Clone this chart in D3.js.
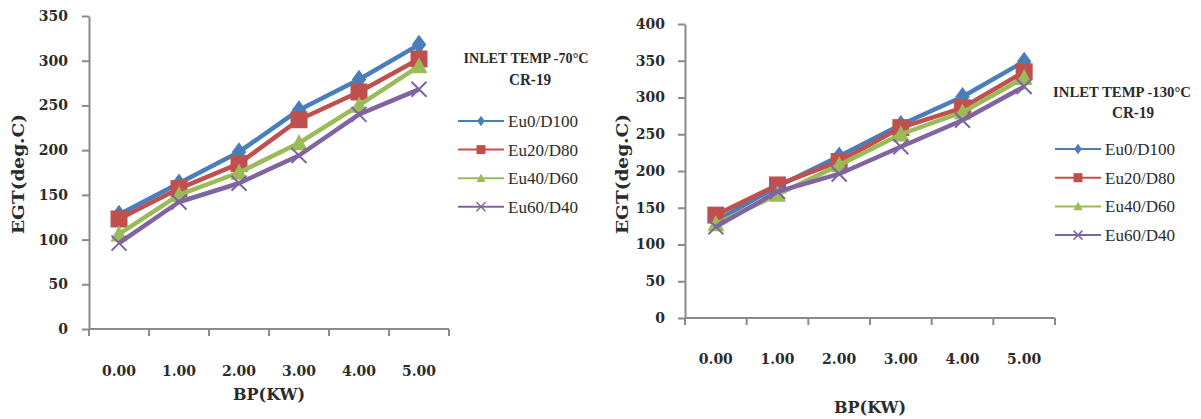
<!DOCTYPE html>
<html>
<head>
<meta charset="utf-8">
<script src="https://cdn.jsdelivr.net/npm/d3@7/dist/d3.min.js"></script>
<style>
  html, body { margin: 0; padding: 0; background: #ffffff; }
  svg { display: block; }
</style>
</head>
<body>
<svg id="chart" width="1201" height="419"></svg>
<script>
// ---------------- DATA ----------------
const categories = ["0.00", "1.00", "2.00", "3.00", "4.00", "5.00"];
const seriesNames = ["Eu0/D100", "Eu20/D80", "Eu40/D60", "Eu60/D40"];

// Inlet temp 70 °C
const t70_Eu0_D100 = [128, 163, 198, 245, 279, 318];
const t70_Eu20_D80 = [123, 157, 185, 234, 265, 302];
const t70_Eu40_D60 = [106, 150, 175, 208, 250, 294];
const t70_Eu60_D40 = [96, 142, 163, 194, 240, 268];

// Inlet temp 130 °C
const t130_Eu0_D100 = [132, 179, 220, 263, 301, 349];
const t130_Eu20_D80 = [140, 181, 213, 259, 286, 335];
const t130_Eu40_D60 = [128, 168, 208, 250, 280, 327];
const t130_Eu60_D40 = [124, 172, 196, 233, 269, 315];

const yTicksLeft = [0, 50, 100, 150, 200, 250, 300, 350];
const yTicksRight = [0, 50, 100, 150, 200, 250, 300, 350, 400];

const xAxisTitle = "BP(KW)";
const yAxisTitle = "EGT(deg.C)";
const legendTitleLeft = "INLET TEMP -70°C";
const legendTitleRight = "INLET TEMP -130°C";
const legendSubtitle = "CR-19";

// ---------------- STYLE ----------------
const colors = ["#4A7EBB", "#C0504D", "#9BBB59", "#8064A2"];
const markers = ["diamond", "square", "triangle", "cross"];
const axisColor = "#8a8a8a";
const textColor = "#2b2b2b";
const tickFont = "'DejaVu Serif', serif";
const legendFont = "'Liberation Serif', 'DejaVu Serif', serif";

function markerPath(type, s) {
  switch (type) {
    case "diamond": return `M0,${-s*1.15}L${s*0.85},0L0,${s*1.15}L${-s*0.85},0Z`;
    case "square": return `M${-s},${-s}H${s}V${s}H${-s}Z`;
    case "triangle": return `M0,${-s*1.05}L${s},${s*0.85}L${-s},${s*0.85}Z`;
    case "cross": return `M${-s},${-s}L${s},${s}M${-s},${s}L${s},${-s}`;
  }
}

const svg = d3.select("#chart");

function drawChart(cfg) {
  const g = svg.append("g");
  const x = d3.scaleBand().domain(categories).range([cfg.x0, cfg.x1]).padding(0);
  const y = d3.scaleLinear().domain([0, cfg.yMax]).range([cfg.yBottom, cfg.yTop]);

  // Y axis
  const yAxis = d3.axisLeft(y).tickValues(cfg.yTicks).tickFormat(d3.format("d"))
    .tickSizeInner(7).tickSizeOuter(0).tickPadding(cfg.yTickPad);
  const ya = g.append("g").attr("transform", `translate(${cfg.x0},0)`).call(yAxis);
  ya.select(".domain").attr("stroke", axisColor).attr("stroke-width", 2);
  ya.selectAll(".tick line").attr("stroke", axisColor).attr("stroke-width", 2);
  ya.selectAll(".tick text").attr("fill", textColor)
    .style("font-family", tickFont).style("font-weight", "bold").style("font-size", "14px");

  // X axis (ticks at category boundaries, labels centred in bands)
  const boundaries = categories.map(c => x(c)).concat([cfg.x1]);
  const xa = g.append("g").attr("transform", `translate(0,${cfg.yBottom})`);
  xa.append("line").attr("x1", cfg.x0).attr("x2", cfg.x1).attr("y1", 0).attr("y2", 0)
    .attr("stroke", axisColor).attr("stroke-width", 2);
  xa.selectAll("line.tk").data(boundaries).enter().append("line").attr("class", "tk")
    .attr("x1", d => d).attr("x2", d => d).attr("y1", 0).attr("y2", 7)
    .attr("stroke", axisColor).attr("stroke-width", 2);
  xa.selectAll("text.xl").data(categories).enter().append("text").attr("class", "xl")
    .attr("x", d => x(d) + x.bandwidth() / 2)
    .attr("y", cfg.xLabelBaseline - cfg.yBottom)
    .attr("text-anchor", "middle").attr("fill", textColor)
    .style("font-family", tickFont).style("font-weight", "bold").style("font-size", "14px")
    .text(d => d);

  // Axis titles
  g.append("text").attr("x", cfg.xTitleX).attr("y", cfg.xTitleY).attr("text-anchor", "middle")
    .attr("fill", textColor).style("font-family", tickFont).style("font-weight", "bold")
    .style("font-size", "16px").text(xAxisTitle);
  g.append("text").attr("transform", `translate(${cfg.yTitleX},${cfg.yTitleY}) rotate(-90)`)
    .attr("text-anchor", "middle").attr("dy", "0.35em")
    .attr("fill", textColor).style("font-family", tickFont).style("font-weight", "bold")
    .style("font-size", "17px").attr("textLength", 120).attr("lengthAdjust", "spacingAndGlyphs")
    .text(yAxisTitle);

  // Series
  const line = d3.line().x((d, i) => x(categories[i]) + x.bandwidth() / 2).y(d => y(d));
  cfg.series.forEach((vals, si) => {
    const sg = g.append("g");
    sg.append("path").datum(vals).attr("d", line).attr("fill", "none")
      .attr("stroke", colors[si]).attr("stroke-width", 4.5).attr("stroke-linejoin", "round");
    sg.selectAll("path.m").data(vals).enter().append("path").attr("class", "m")
      .attr("transform", (d, i) => `translate(${x(categories[i]) + x.bandwidth() / 2},${y(d)})`)
      .attr("d", markerPath(markers[si], markers[si] === "cross" ? 7.5 : 8.5))
      .attr("fill", markers[si] === "cross" ? "none" : colors[si])
      .attr("stroke", colors[si]).attr("stroke-width", markers[si] === "cross" ? 2 : 0);
  });

  // Legend
  const lg = g.append("g");
  lg.append("text").attr("x", cfg.legTitleX).attr("y", cfg.legTitleY).attr("text-anchor", "middle")
    .attr("fill", textColor).style("font-family", legendFont).style("font-weight", "bold")
    .style("font-size", "15px").attr("textLength", cfg.legTitleLen).attr("lengthAdjust", "spacingAndGlyphs")
    .text(cfg.legTitle);
  lg.append("text").attr("x", cfg.legSubX).attr("y", cfg.legSubY).attr("text-anchor", "middle")
    .attr("fill", textColor).style("font-family", legendFont).style("font-weight", "bold")
    .style("font-size", "16px").attr("textLength", 42).attr("lengthAdjust", "spacingAndGlyphs")
    .text(legendSubtitle);
  seriesNames.forEach((name, si) => {
    const cy = cfg.legY0 + si * cfg.legStep;
    lg.append("line").attr("x1", cfg.legX0).attr("x2", cfg.legX0 + 46).attr("y1", cy).attr("y2", cy)
      .attr("stroke", colors[si]).attr("stroke-width", 2);
    lg.append("path").attr("transform", `translate(${cfg.legX0 + 23},${cy})`)
      .attr("d", markerPath(markers[si], 4.5))
      .attr("fill", markers[si] === "cross" ? "none" : colors[si])
      .attr("stroke", colors[si]).attr("stroke-width", markers[si] === "cross" ? 1.5 : 0);
    lg.append("text").attr("x", cfg.legX0 + 50).attr("y", cy).attr("dy", "0.35em")
      .attr("fill", textColor).style("font-family", legendFont).style("font-size", "17px")
      .attr("textLength", 70).attr("lengthAdjust", "spacingAndGlyphs")
      .text(name);
  });
}

drawChart({
  x0: 89, x1: 449, yTop: 16, yBottom: 329, yMax: 350, yTicks: yTicksLeft, yTickPad: 14,
  xLabelBaseline: 376, xTitleX: 269, xTitleY: 400, yTitleX: 18, yTitleY: 174,
  series: [t70_Eu0_D100, t70_Eu20_D80, t70_Eu40_D60, t70_Eu60_D40],
  legTitle: legendTitleLeft, legTitleX: 526, legTitleY: 63, legTitleLen: 125,
  legSubX: 530, legSubY: 85, legX0: 458, legY0: 121, legStep: 28.6
});

drawChart({
  x0: 685, x1: 1055, yTop: 24, yBottom: 318, yMax: 400, yTicks: yTicksRight, yTickPad: 13,
  xLabelBaseline: 364, xTitleX: 870, xTitleY: 413, yTitleX: 622, yTitleY: 174,
  series: [t130_Eu0_D100, t130_Eu20_D80, t130_Eu40_D60, t130_Eu60_D40],
  legTitle: legendTitleRight, legTitleX: 1122, legTitleY: 97, legTitleLen: 138,
  legSubX: 1133, legSubY: 118, legX0: 1055, legY0: 149, legStep: 28.7
});
</script>
</body>
</html>
